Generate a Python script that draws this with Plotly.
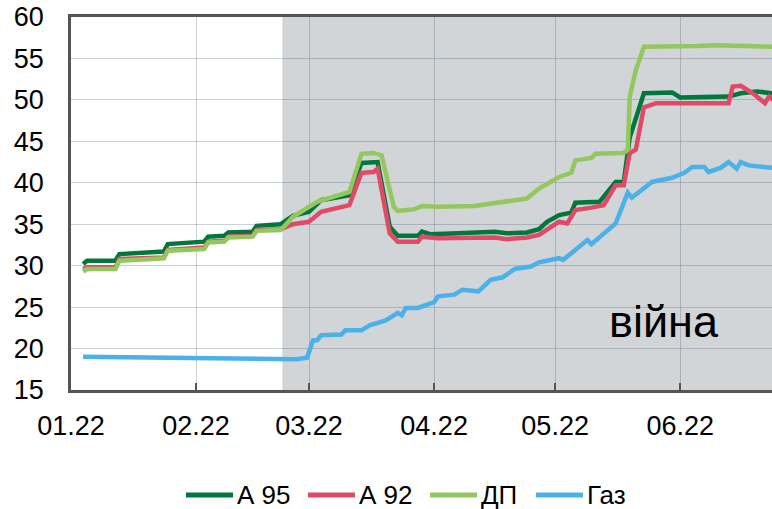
import plotly.graph_objects as go

# Ціни на пальне, грн/л (2022)
a95_dates = ["2022-01-04", "2022-01-05", "2022-01-12", "2022-01-13", "2022-01-24", "2022-01-25",
             "2022-02-03", "2022-02-04", "2022-02-08", "2022-02-09", "2022-02-15", "2022-02-16",
             "2022-02-22", "2022-02-25", "2022-03-01", "2022-03-04", "2022-03-11", "2022-03-14",
             "2022-03-18", "2022-03-21", "2022-03-23", "2022-03-28", "2022-03-29", "2022-03-31",
             "2022-04-07", "2022-04-11", "2022-04-16", "2022-04-19", "2022-04-24", "2022-04-27",
             "2022-04-29", "2022-05-02", "2022-05-05", "2022-05-06", "2022-05-12", "2022-05-16",
             "2022-05-18", "2022-05-19 12:00", "2022-05-21", "2022-05-23", "2022-05-30", "2022-06-01",
             "2022-06-13", "2022-06-16", "2022-06-20", "2022-06-24"]
a95 = [30.2, 30.6, 30.6, 31.4, 31.7, 32.6,
       32.9, 33.5, 33.6, 34.0, 34.1, 34.8,
       35.0, 36.0, 36.5, 37.9, 38.5, 42.4,
       42.5, 34.7, 33.6, 33.6, 34.1, 33.8,
       33.9, 34.0, 34.1, 33.9, 34.0, 34.4,
       35.3, 36.1, 36.4, 37.6, 37.7, 40.1,
       40.1, 45.5, 47.6, 50.8, 50.9, 50.3,
       50.4, 50.8, 51.0, 50.8]

a92_dates = ["2022-01-04", "2022-01-05", "2022-01-12", "2022-01-13", "2022-01-24", "2022-01-25",
             "2022-02-03", "2022-02-04", "2022-02-08", "2022-02-09", "2022-02-15", "2022-02-16",
             "2022-02-22", "2022-02-25", "2022-03-01", "2022-03-04", "2022-03-11", "2022-03-14",
             "2022-03-17", "2022-03-18", "2022-03-21", "2022-03-23", "2022-03-28", "2022-03-29",
             "2022-04-02", "2022-04-11", "2022-04-16", "2022-04-19", "2022-04-24", "2022-04-27",
             "2022-04-29", "2022-05-02", "2022-05-04", "2022-05-06", "2022-05-10", "2022-05-13",
             "2022-05-16", "2022-05-18", "2022-05-19 12:00", "2022-05-21", "2022-05-23", "2022-05-26",
             "2022-06-13", "2022-06-14", "2022-06-16", "2022-06-19", "2022-06-22", "2022-06-23",
             "2022-06-24"]
a92 = [29.6, 29.8, 29.8, 30.8, 31.0, 31.9,
       32.2, 32.9, 33.0, 33.5, 33.6, 34.3,
       34.4, 35.0, 35.3, 36.5, 37.3, 41.2,
       41.3, 41.7, 33.9, 32.9, 32.9, 33.5,
       33.3, 33.3, 33.4, 33.2, 33.4, 33.7,
       34.4, 35.3, 35.1, 36.7, 37.0, 37.3,
       39.7, 39.7, 43.6, 44.0, 49.1, 49.6,
       49.6, 51.6, 51.7, 50.8, 49.6, 50.4,
       50.0]

dp_dates = ["2022-01-04", "2022-01-05", "2022-01-12", "2022-01-13", "2022-01-24", "2022-01-25",
            "2022-02-03", "2022-02-04", "2022-02-08", "2022-02-09", "2022-02-15", "2022-02-16",
            "2022-02-22", "2022-02-25", "2022-03-03", "2022-03-11", "2022-03-14", "2022-03-17",
            "2022-03-19", "2022-03-22", "2022-03-23", "2022-03-27", "2022-03-29", "2022-04-02",
            "2022-04-11", "2022-04-16", "2022-04-21", "2022-04-24", "2022-04-27", "2022-05-02",
            "2022-05-05", "2022-05-06", "2022-05-10", "2022-05-11", "2022-05-18", "2022-05-19",
            "2022-05-19 12:00", "2022-05-21", "2022-05-23", "2022-06-05", "2022-06-10", "2022-06-24"]
dp = [29.3, 29.6, 29.6, 30.6, 30.9, 31.8,
      32.0, 32.8, 32.9, 33.4, 33.5, 34.2,
      34.3, 35.9, 37.7, 38.9, 43.5, 43.6,
      43.3, 37.1, 36.6, 36.8, 37.2, 37.1,
      37.2, 37.6, 37.9, 38.1, 39.3, 40.7,
      41.2, 42.7, 43.0, 43.5, 43.6, 44.0,
      50.4, 53.6, 56.4, 56.5, 56.6, 56.4]

gas_dates = ["2022-01-04", "2022-01-20", "2022-02-05", "2022-02-22", "2022-02-26", "2022-02-28 12:00",
             "2022-03-02", "2022-03-03", "2022-03-04", "2022-03-09", "2022-03-10", "2022-03-14",
             "2022-03-16", "2022-03-20", "2022-03-23", "2022-03-24", "2022-03-25", "2022-03-28",
             "2022-04-01", "2022-04-02", "2022-04-06", "2022-04-08", "2022-04-12", "2022-04-15",
             "2022-04-18", "2022-04-21", "2022-04-25", "2022-04-27", "2022-05-02", "2022-05-03",
             "2022-05-09", "2022-05-10", "2022-05-13", "2022-05-16", "2022-05-19", "2022-05-20",
             "2022-05-25", "2022-05-30", "2022-06-02", "2022-06-04", "2022-06-07", "2022-06-08",
             "2022-06-11", "2022-06-13", "2022-06-15", "2022-06-16", "2022-06-18", "2022-06-20",
             "2022-06-24"]
gas = [19.0, 18.95, 18.9, 18.8, 18.7, 18.9,
       21.0, 21.0, 21.6, 21.7, 22.2, 22.2,
       22.8, 23.4, 24.3, 24.0, 24.9, 24.9,
       25.6, 26.3, 26.5, 27.1, 26.9, 28.3,
       28.6, 29.6, 29.9, 30.4, 30.9, 30.7,
       33.1, 32.6, 33.9, 35.1, 38.8, 38.2,
       40.1, 40.6, 41.2, 41.9, 41.9, 41.3,
       41.8, 42.5, 41.7, 42.5, 42.1, 42.0,
       41.8]

series = [
    ("А 95", a95_dates, a95, "#00773B"),
    ("А 92", a92_dates, a92, "#E04A66"),
    ("ДП", dp_dates, dp, "#92C85E"),
    ("Газ", gas_dates, gas, "#4BB1E8"),
]

FONT = "Arial, Liberation Sans, sans-serif"
AXIS = "#555555"
GRID = "rgba(70,85,100,0.28)"

W, H = 772, 509
L, T, B = 71, 17, 509 - 390
PW, PH = W - L, H - T - B


def px(x):  # піксель x -> paper
    return (x - L) / PW


def py(y):  # піксель y -> paper
    return (H - B - y) / PH


fig = go.Figure()
for name, d, v, c in series:
    fig.add_trace(go.Scatter(x=d, y=v, name=name, mode="lines",
                             line=dict(color=c, width=4.5), showlegend=False))

# Період війни
fig.add_shape(type="rect", xref="x", yref="y",
              x0="2022-02-22 09:00", x1="2022-07-15", y0=15, y1=60,
              fillcolor="#D2D5D8", line_width=0, layer="below")

fig.add_annotation(x="2022-05-28", y=23.3, xref="x", yref="y", text="війна",
                   showarrow=False, font=dict(size=45, color="#000000", family=FONT))

# Легенда внизу
leg_x = [186, 308, 430, 536]
for (name, d, v, c), x0 in zip(series, leg_x):
    fig.add_shape(type="line", xref="paper", yref="paper",
                  x0=px(x0), x1=px(x0 + 47), y0=py(495), y1=py(495),
                  line=dict(color=c, width=5))
    fig.add_annotation(x=px(x0 + 50), y=py(495), xref="paper", yref="paper",
                       xanchor="left", yanchor="middle", text=name, showarrow=False,
                       borderpad=0, font=dict(size=26, color="#000000", family=FONT))

fig.update_layout(
    width=W, height=H,
    margin=dict(l=L, r=0, t=T, b=B),
    paper_bgcolor="white", plot_bgcolor="white",
    font=dict(family=FONT, size=27, color="#000000"),
    showlegend=False,
)

fig.update_xaxes(
    type="date", range=["2022-01-01", "2022-06-23 18:00"],
    tick0="2022-01-01", dtick="M1", tickformat="%m.%y",
    showgrid=True, gridcolor=GRID, gridwidth=1,
    showline=True, linecolor=AXIS, linewidth=2.5, mirror=True,
    ticks="inside", ticklen=7, tickwidth=2, tickcolor=AXIS,
    ticklabelstandoff=10, ticklabeloverflow="allow",
    zeroline=False, automargin=False,
)
fig.update_yaxes(
    range=[15, 60], dtick=5, tick0=15,
    showgrid=True, gridcolor=GRID, gridwidth=1,
    showline=True, linecolor=AXIS, linewidth=2.5,
    ticks="", ticklabelstandoff=19, ticklabeloverflow="allow",
    zeroline=False, automargin=False,
)

# прибрати стандартний відступ сторінки, щоб фігура стала у (0, 0)
fig.write_html("out.html", config={"displayModeBar": False},
               post_script="document.body.style.margin = '0';")
